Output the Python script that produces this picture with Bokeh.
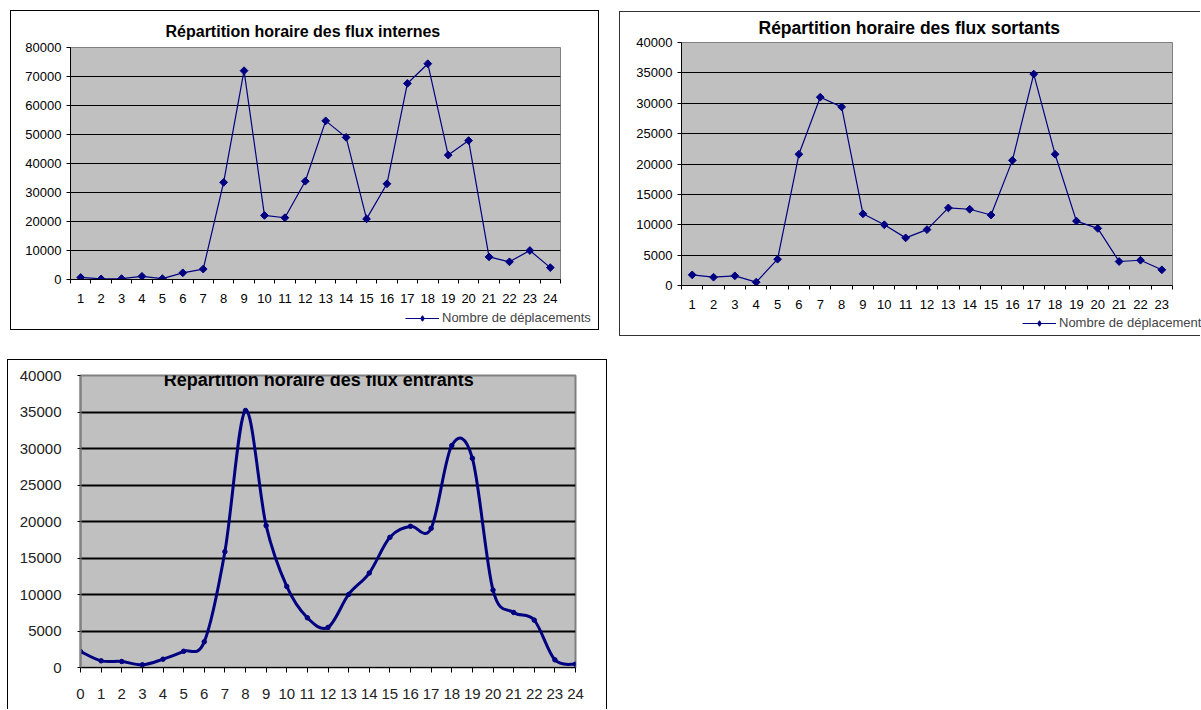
import math
import numpy as np
from bokeh.plotting import figure
from bokeh.models import (Range1d, FixedTicker, Legend, LegendItem, Label,
                          NumeralTickFormatter)
from bokeh.layouts import column, row
from bokeh.embed import file_html
from bokeh.resources import INLINE

# ---------------- data ----------------
hours_internes = list(range(1, 25))
flux_internes = [700, 200, 300, 1100, 300, 2300, 3600, 33500, 72000, 22100, 21300, 33900,
                 54700, 49000, 20900, 33000, 67600, 74400, 42900, 47900, 7800, 6100, 10000, 4100]

hours_sortants = list(range(1, 24))
flux_sortants = [1750, 1370, 1590, 550, 4330, 21600, 31000, 29400, 11800, 10000, 7840, 9200,
                 12770, 12550, 11600, 20600, 34800, 21600, 10600, 9400, 3950, 4160, 2580]

hours_entrants = list(range(0, 25))
flux_entrants = [2190, 910, 820, 370, 1140, 2220, 3520, 15860, 35200, 19430, 11110, 6810, 5490,
                 10010, 12940, 17830, 19340, 19060, 30400, 28660, 10610, 7540, 6490, 1050, 460]

title_internes = "Répartition horaire des flux internes"
title_sortants = "Répartition horaire des flux sortants"
title_entrants = "Répartition horaire des flux entrants"
legend_label = "Nombre de déplacements"

NAVY = "#000080"
GREY = "#C0C0C0"
FONT = "Liberation Sans"


def no_frame_align(p):
    if "frame_align" in p.properties():
        p.frame_align = False


def excel_fig(width, height, borders, x_range, y_range, title, title_offset, title_size,
              title_standoff):
    left, right, top, bottom = borders
    p = figure(width=width, height=height, x_range=x_range, y_range=y_range,
               output_backend="svg", toolbar_location=None,
               min_border_left=left, min_border_right=right,
               min_border_top=top, min_border_bottom=bottom)
    no_frame_align(p)
    p.background_fill_color = GREY
    p.border_fill_color = "white"
    p.outline_line_color = "#808080"
    p.outline_line_width = 1
    p.xgrid.visible = False
    p.ygrid.grid_line_color = "black"
    p.ygrid.grid_line_width = 1
    for ax in (p.xaxis[0], p.yaxis[0]):
        ax.axis_line_color = "black"
        ax.major_label_text_font = FONT
        ax.major_label_text_font_size = "13px"
        ax.major_label_text_color = "black"
    if title is not None:
        p.title.text = title
        p.title.align = "left"
        p.title.vertical_align = "middle"
        p.title.offset = title_offset
        p.title.text_font = FONT
        p.title.text_font_size = title_size
        p.title.text_font_style = "bold"
        p.title.text_color = "black"
        p.title.standoff = title_standoff
    return p


def category_axis(p, hours):
    bounds = [hours[0] - 0.5] + [h + 0.5 for h in hours]
    ax = p.xaxis[0]
    ax.ticker = FixedTicker(ticks=hours, minor_ticks=bounds)
    ax.major_tick_line_color = None
    ax.major_tick_out = 0
    ax.major_tick_in = 0
    ax.minor_tick_line_color = "black"
    ax.minor_tick_out = 4
    ax.minor_tick_in = 0
    ax.major_label_standoff = 10


def value_axis(p, step, top):
    ax = p.yaxis[0]
    ax.ticker = FixedTicker(ticks=list(range(0, top + 1, step)))
    ax.formatter = NumeralTickFormatter(format="0")
    ax.major_tick_out = 4
    ax.major_tick_in = 0
    ax.minor_tick_line_color = None
    ax.major_label_standoff = 5
    p.ygrid.ticker = FixedTicker(ticks=list(range(step, top, step)))


def draw_series(p, hours, values):
    p.line(hours, values, line_color=NAVY, line_width=1.2)
    p.scatter(hours, values, marker="square", angle=math.pi / 4, size=5.5,
              fill_color=NAVY, line_color=NAVY)


def legend_fig(width, height, loc, hours, values):
    # strip under the chart holding its legend (the series sits outside its view ranges)
    q = figure(width=width, height=height, output_backend="svg", toolbar_location=None,
               x_axis_type=None, y_axis_type=None, x_range=Range1d(-2, -1),
               y_range=Range1d(-2, -1), min_border=0)
    no_frame_align(q)
    q.outline_line_color = None
    q.background_fill_color = "white"
    q.border_fill_color = "white"
    q.xgrid.visible = False
    q.ygrid.visible = False
    ln = q.line(hours, values, line_color=NAVY, line_width=1.2)
    sc = q.scatter(hours, values, marker="diamond", size=9,
                   fill_color=NAVY, line_color=NAVY)
    leg = Legend(items=[LegendItem(label=legend_label, renderers=[ln, sc])],
                 location=loc, padding=0, margin=0, spacing=0,
                 border_line_color=None, background_fill_alpha=0,
                 glyph_width=34, glyph_height=14, label_height=14, label_standoff=3,
                 label_text_font=FONT, label_text_font_size="13px")
    q.add_layout(leg)
    return q


# ---------------- chart 1 : flux internes ----------------
p1 = excel_fig(587, 297, (59, 38, 36, 29),
               Range1d(hours_internes[0] - 0.5, hours_internes[-1] + 0.5), Range1d(0, 80000),
               title_internes, 95, "16px", 13)
category_axis(p1, hours_internes)
value_axis(p1, 10000, 80000)
draw_series(p1, hours_internes, flux_internes)
l1 = legend_fig(587, 21, (394, 4), hours_internes, flux_internes)
c1 = column(p1, l1, spacing=0)
c1.margin = (11, 0, 0, 11)
c1.styles = {"box-shadow": "0 0 0 1px #000"}

# ---------------- chart 2 : flux sortants ----------------
p2 = excel_fig(581, 301, (61, 29, 30, 28),
               Range1d(hours_sortants[0] - 0.5, hours_sortants[-1] + 0.5), Range1d(0, 40000),
               title_sortants, 77, "17.5px", 8)
category_axis(p2, hours_sortants)
value_axis(p2, 5000, 40000)
draw_series(p2, hours_sortants, flux_sortants)
l2 = legend_fig(581, 22, (402, 5), hours_sortants, flux_sortants)
c2 = column(p2, l2, spacing=0)
c2.margin = (12, 0, 0, 22)
c2.styles = {"box-shadow": "-1px -1px 0 0 #333, -1px 1px 0 0 #333"}

# ---------------- chart 3 : flux entrants (smoothed) ----------------
p3 = excel_fig(598, 350, (72, 31, 15, 43),
               Range1d(hours_entrants[0], hours_entrants[-1]), Range1d(0, 40000),
               None, 0, "16px", 0)
p3.outline_line_width = 2
p3.ygrid.grid_line_width = 2
xa = p3.xaxis[0]
xa.ticker = FixedTicker(ticks=hours_entrants)
xa.major_tick_out = 5
xa.major_tick_in = 0
xa.minor_tick_line_color = None
xa.major_label_standoff = 16
xa.major_label_text_font_size = "15px"
xa.major_label_text_color = "#222222"
ya = p3.yaxis[0]
ya.ticker = FixedTicker(ticks=list(range(0, 40001, 5000)))
ya.formatter = NumeralTickFormatter(format="0")
ya.major_tick_out = 3
ya.major_tick_in = 0
ya.minor_tick_line_color = None
ya.major_label_standoff = 16
ya.major_label_text_font_size = "15px"
ya.major_label_text_color = "#222222"
ya.axis_line_color = "#808080"
ya.axis_line_width = 2
p3.ygrid.ticker = FixedTicker(ticks=list(range(5000, 40000, 5000)))

# smoothed curve: cubic Bezier segments (Catmull-Rom style control points)
xe = np.array(hours_entrants, dtype=float)
ye = np.array(flux_entrants, dtype=float)
qx = np.concatenate([[xe[0]], xe, [xe[-1]]])
qy = np.concatenate([[ye[0]], ye, [ye[-1]]])
n = len(xe)
x0, y0 = qx[1:n], qy[1:n]
x1, y1 = qx[2:n + 1], qy[2:n + 1]
cx0 = x0 + (x1 - qx[0:n - 1]) / 6.0
cy0 = y0 + (y1 - qy[0:n - 1]) / 6.0
cx1 = x1 - (qx[3:n + 2] - x0) / 6.0
cy1 = y1 - (qy[3:n + 2] - y0) / 6.0
p3.bezier(x0=x0, y0=y0, x1=x1, y1=y1, cx0=cx0, cy0=cy0, cx1=cx1, cy1=cy1,
          line_color=NAVY, line_width=3, line_cap="round")
p3.scatter(hours_entrants, flux_entrants, marker="circle", size=4.5,
           fill_color=NAVY, line_color=NAVY)
p3.add_layout(Label(x=11.55, y=39350, text=title_entrants, text_align="center",
                    text_baseline="middle", text_font=FONT, text_font_size="18px",
                    text_font_style="bold", text_color="black"))
p3.margin = (25, 0, 0, 8)
p3.styles = {"box-shadow": "-1px -1px 0 0 #000, 1px -1px 0 0 #000"}

layout = column(row(c1, c2, spacing=0), p3, spacing=0)

open("out.html", "w").write(file_html(layout, INLINE))
